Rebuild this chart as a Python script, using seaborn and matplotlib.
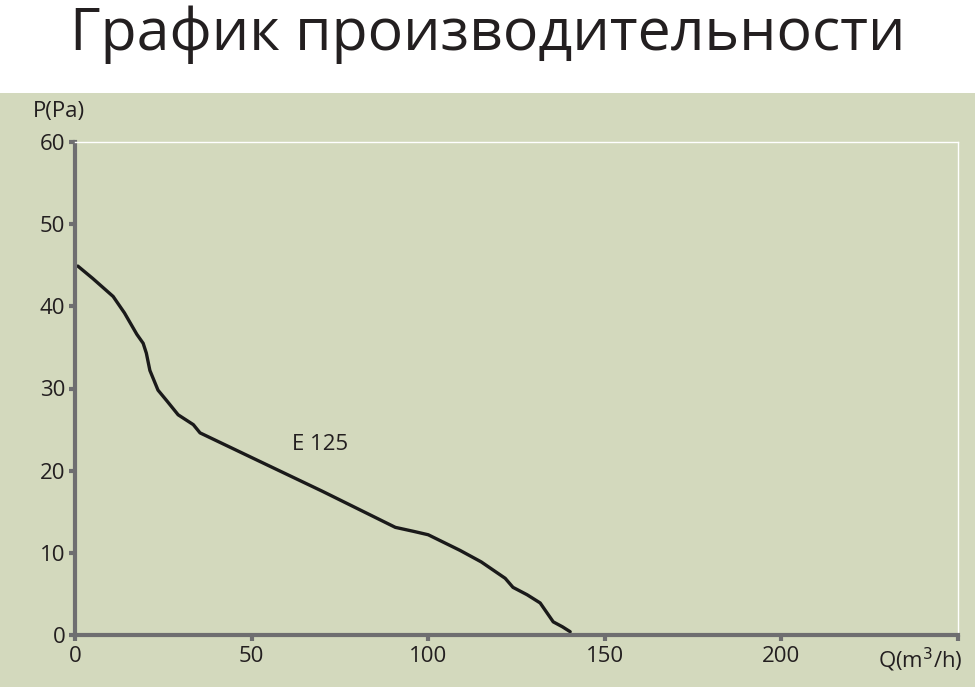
import numpy as np
import pandas as pd
import matplotlib
import matplotlib.pyplot as plt
import seaborn as sns

# curve
q_flow = [0.8, 5, 10.8, 14, 17.5, 19.3, 20.2, 21.2, 23.5, 26, 29.2, 33.5, 35.4,
          50, 70, 90.7, 96, 100, 109, 115, 121.8, 124, 128, 131.7, 135.4, 138, 140.2]
p_press = [44.9, 43.4, 41.2, 39.2, 36.6, 35.5, 34.3, 32.2, 29.8, 28.5, 26.8, 25.6, 24.6,
           21.6, 17.5, 13.1, 12.6, 12.2, 10.3, 8.9, 6.9, 5.8, 4.9, 3.9, 1.6, 1.0, 0.4]
x_ticks = [0, 50, 100, 150, 200, 250]
x_labels = ["0", "50", "100", "150", "200", ""]
y_ticks = [0, 10, 20, 30, 40, 50, 60]

title = "График производительности"
curve_label = "E 125"

sns.set_style("white")
plt.rcParams['font.family'] = ['Open Sans', 'DejaVu Sans']

bg = "#d3d9bd"
axis_col = "#6e6e70"
txt = "#231f20"

fig = plt.figure(figsize=(9.75, 6.87), dpi=100)
fig.patch.set_facecolor("white")
fig.patches.append(matplotlib.patches.Rectangle((0, 0), 1, 1 - 93 / 687, transform=fig.transFigure,
                                                facecolor=bg, edgecolor="none", zorder=-5))
fig.text(0.5, 0.95, title, ha="center", va="center", fontsize=42.5, color=txt)

ax = fig.add_axes([75 / 975, 52 / 687, 883 / 975, 493 / 687])
ax.set_facecolor(bg)

df = pd.DataFrame({"Q": q_flow, "P": p_press})
sns.lineplot(data=df, x="Q", y="P", ax=ax, color="#1a1a1a", linewidth=2.4)

ax.set_xlim(0, 250)
ax.set_ylim(0, 60)
ax.set_xticks(x_ticks)
ax.set_xticklabels(x_labels)
ax.set_yticks(y_ticks)
ax.set_xlabel("")
ax.set_ylabel("")

for s in ["left", "bottom"]:
    ax.spines[s].set_color(axis_col)
    ax.spines[s].set_linewidth(3)
for s in ["top", "right"]:
    ax.spines[s].set_color("white")
    ax.spines[s].set_linewidth(1)

ax.tick_params(axis="both", direction="out", length=4, width=3, color=axis_col,
               labelsize=16, labelcolor=txt, bottom=True, left=True)
ax.tick_params(axis="y", pad=3)
ax.tick_params(axis="x", pad=4)

ax.text(69.5, 23.2, curve_label, fontsize=16, color=txt, ha="center", va="center")
fig.text(59 / 975, 1 - 112 / 687, "P(Pa)", fontsize=16, color=txt, ha="center", va="center")
fig.text(920 / 975, 1 - 660 / 687, "Q(m$^3$/h)", fontsize=16, color=txt, ha="center", va="center")

fig.savefig("out.png", dpi=100, facecolor=fig.get_facecolor())
